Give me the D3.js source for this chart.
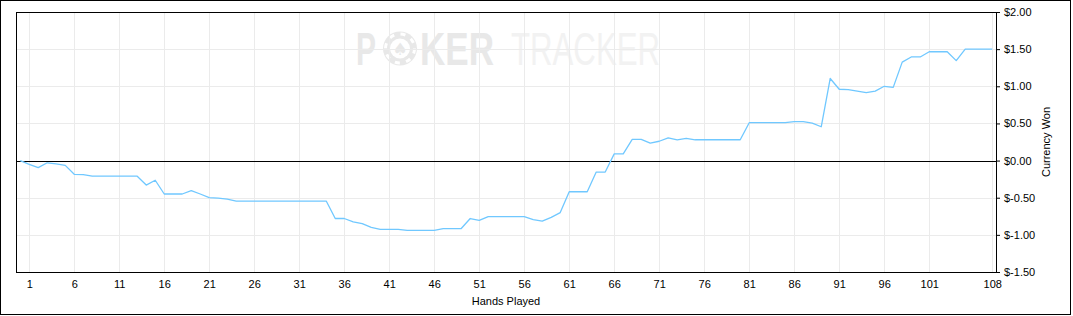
<!DOCTYPE html>
<html>

<head>
  <title>Hands Played - Currency Won</title>
  <meta charset="utf-8" />
  <script src="https://d3js.org/d3.v7.min.js"></script>
  <style>
    body { margin: 0; background: #fff; }
    text { font-family: "Liberation Sans", Arial, sans-serif; }
  </style>
</head>

<body>
  <svg id="chart" width="1073" height="316"></svg>

  <script>
    // cumulative winnings after each hand (hand 0 = start)
    const won = [
      0, -0.05, -0.095, -0.03, -0.045, -0.065, -0.185, -0.19, -0.21, -0.21,
      -0.21, -0.21, -0.21, -0.21, -0.33, -0.265, -0.45, -0.45, -0.45, -0.405,
      -0.45, -0.50, -0.505, -0.52, -0.545, -0.545, -0.545, -0.545, -0.545, -0.545,
      -0.545, -0.545, -0.545, -0.545, -0.545, -0.78, -0.78, -0.825, -0.85, -0.90,
      -0.925, -0.925, -0.925, -0.94, -0.94, -0.94, -0.94, -0.915, -0.915, -0.915,
      -0.78, -0.805, -0.755, -0.755, -0.755, -0.755, -0.755, -0.795, -0.815, -0.765,
      -0.70, -0.42, -0.42, -0.42, -0.155, -0.155, 0.09, 0.09, 0.285, 0.285,
      0.235, 0.26, 0.305, 0.28, 0.30, 0.28, 0.28, 0.28, 0.28, 0.28,
      0.28, 0.51, 0.51, 0.51, 0.51, 0.51, 0.525, 0.525, 0.505, 0.455,
      1.105, 0.96, 0.955, 0.935, 0.915, 0.935, 1.0, 0.985, 1.325, 1.395,
      1.395, 1.465, 1.465, 1.465, 1.345, 1.50, 1.50, 1.50, 1.50
    ];
    const hands = d3.range(0, won.length);
    const xTicks = [1, 6, 11, 16, 21, 26, 31, 36, 41, 46, 51, 56, 61, 66, 71, 76, 81, 86, 91, 96, 101, 108];
    const yTicks = [-1.5, -1, -0.5, 0, 0.5, 1, 1.5, 2];

    const svg = d3.select("#chart");
    const margin = { top: 12, right: 77, left: 16, bottom: 44 };
    const width = +svg.attr("width");
    const height = +svg.attr("height");
    const right = width - margin.right;
    const bottom = height - margin.bottom;

    const x = d3.scaleLinear().domain([-0.47, 108.42]).range([margin.left, right]);
    const y = d3.scaleLinear().domain([-1.5, 2]).range([bottom, margin.top]);

    // outer border
    svg.append("rect")
      .attr("x", 0.5).attr("y", 0.5)
      .attr("width", width - 3).attr("height", height - 2)
      .attr("fill", "none").attr("stroke", "#000");

    // watermark
    const wm = svg.append("g").attr("class", "watermark");
    wm.append("text").text("P")
      .attr("x", 356).attr("y", 65)
      .attr("font-size", 46).attr("font-weight", "bold")
      .attr("fill", "#e8e8e8")
      .attr("textLength", 20).attr("lengthAdjust", "spacingAndGlyphs");
    wm.append("circle").attr("cx", 400).attr("cy", 48.5).attr("r", 17).attr("fill", "#e8e8e8");
    wm.append("circle").attr("cx", 400).attr("cy", 48.5).attr("r", 14.5)
      .attr("fill", "none").attr("stroke", "#fff").attr("stroke-width", 3)
      .attr("stroke-dasharray", "5 6.4");
    wm.append("circle").attr("cx", 400).attr("cy", 48.5).attr("r", 10).attr("fill", "#fff");
    wm.append("text").text("\u2660")
      .attr("x", 400).attr("y", 55).attr("text-anchor", "middle")
      .style("font-family", "DejaVu Sans")
      .attr("font-size", 17).attr("fill", "#e8e8e8");
    wm.append("text").text("KER")
      .attr("x", 420).attr("y", 65)
      .attr("font-size", 46).attr("font-weight", "bold")
      .attr("fill", "#e8e8e8")
      .attr("textLength", 74).attr("lengthAdjust", "spacingAndGlyphs");
    wm.append("text").text("TRACKER")
      .attr("x", 511).attr("y", 65)
      .attr("font-size", 46)
      .attr("fill", "#f2f2f2")
      .attr("textLength", 149).attr("lengthAdjust", "spacingAndGlyphs");

    // grid
    svg.append("g").selectAll("line.vgrid")
      .data(xTicks)
      .join("line")
      .attr("class", "vgrid")
      .attr("x1", d => Math.round(x(d)) + 0.5).attr("x2", d => Math.round(x(d)) + 0.5)
      .attr("y1", margin.top).attr("y2", bottom)
      .attr("stroke", "#ebebeb");

    svg.append("g").selectAll("line.hgrid")
      .data(yTicks)
      .join("line")
      .attr("class", "hgrid")
      .attr("x1", margin.left).attr("x2", right)
      .attr("y1", d => Math.round(y(d)) + 0.5).attr("y2", d => Math.round(y(d)) + 0.5)
      .attr("stroke", "#ebebeb");

    // zero line
    svg.append("line")
      .attr("x1", margin.left).attr("x2", right)
      .attr("y1", Math.round(y(0)) + 0.5).attr("y2", Math.round(y(0)) + 0.5)
      .attr("stroke", "#000");

    // plot frame
    svg.append("rect")
      .attr("x", margin.left + 0.5).attr("y", margin.top + 0.5)
      .attr("width", right - margin.left).attr("height", bottom - margin.top)
      .attr("fill", "none").attr("stroke", "#000");

    // the line
    const line = d3.line()
      .x((d, i) => x(hands[i]))
      .y(d => y(d));

    svg.append("path")
      .datum(won)
      .attr("fill", "none")
      .attr("stroke", "#70c8ff")
      .attr("stroke-width", 1.3)
      .attr("stroke-linejoin", "round")
      .attr("d", line);

    // axes
    const xAxis = svg.append("g")
      .attr("transform", "translate(0," + bottom + ")")
      .call(d3.axisBottom(x).tickValues(xTicks).tickSize(0).tickSizeOuter(0).tickPadding(8));

    const yAxis = svg.append("g")
      .attr("transform", "translate(" + right + ",0)")
      .call(d3.axisRight(y).tickValues(yTicks).tickSize(4).tickSizeOuter(0).tickPadding(4)
        .tickFormat(d => "$" + d.toFixed(2)));

    svg.selectAll(".tick text")
      .attr("font-size", 11)
      .style("font-family", "'Liberation Sans', Arial, sans-serif")
      .attr("fill", "#000");
    svg.selectAll(".domain, .tick line").attr("stroke", "#000");

    // axis titles
    svg.append("text")
      .attr("x", (margin.left + right) / 2).attr("y", 305)
      .attr("text-anchor", "middle")
      .attr("font-size", 11)
      .text("Hands Played");

    svg.append("text")
      .attr("transform", "translate(1050," + (margin.top + bottom) / 2 + ") rotate(-90)")
      .attr("text-anchor", "middle")
      .attr("font-size", 11)
      .text("Currency Won");
  </script>
</body>

</html>
